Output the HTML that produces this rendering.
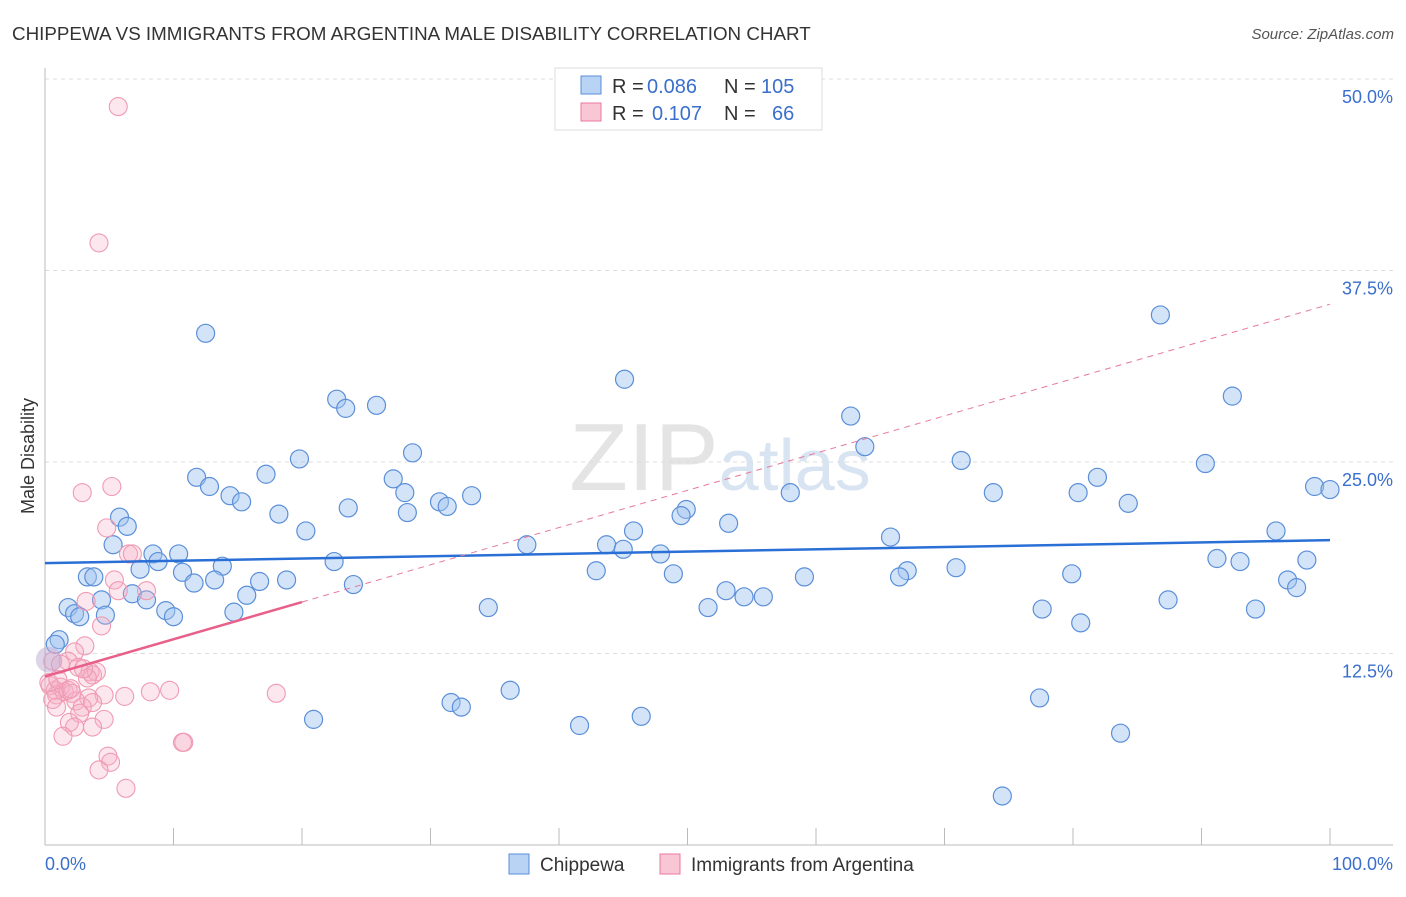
<!DOCTYPE html>
<html><head><meta charset="utf-8"><style>
body{margin:0;background:#fff;font-family:"Liberation Sans",sans-serif}
svg text{font-family:"Liberation Sans",sans-serif}
</style></head><body>
<svg id="chart" width="1406" height="892" viewBox="0 0 1406 892" xmlns="http://www.w3.org/2000/svg">
<text x="12" y="40" font-size="18.8" fill="#333">CHIPPEWA VS IMMIGRANTS FROM ARGENTINA MALE DISABILITY CORRELATION CHART</text>
<text x="1394" y="39" font-size="15" fill="#555" font-style="italic" text-anchor="end">Source: ZipAtlas.com</text>
<text x="720" y="490" font-size="96" fill="#e4e4e4" text-anchor="middle" font-family="Liberation Serif">ZIP<tspan fill="#d8e4f2" font-family="Liberation Sans" font-size="72">atlas</tspan></text>
<g id="grid"></g>
<g id="axes"></g>
<g id="points"></g>
<g id="trends"></g>
<text transform="translate(34,456) rotate(-90)" font-size="18" fill="#333" text-anchor="middle">Male Disability</text>
<g>
<rect x="555" y="68" width="267" height="62" fill="#fff" stroke="#ddd"/>
<rect x="581" y="76" width="20" height="18" fill="#b9d3f5" stroke="#5b8fd9"/>
<rect x="581" y="103" width="20" height="18" fill="#f9c6d5" stroke="#e8799a"/>
<text x="612" y="93" font-size="20" fill="#333">R =</text>
<text x="647" y="93" font-size="20" fill="#3a6fcc">0.086</text>
<text x="724" y="93" font-size="20" fill="#333">N =</text>
<text x="761" y="93" font-size="20" fill="#3a6fcc">105</text>
<text x="612" y="120" font-size="20" fill="#333">R =</text>
<text x="652" y="120" font-size="20" fill="#3a6fcc">0.107</text>
<text x="724" y="120" font-size="20" fill="#333">N =</text>
<text x="772" y="120" font-size="20" fill="#3a6fcc">66</text>
</g>
<g>
<rect x="509" y="854" width="20" height="20" fill="#b9d3f5" stroke="#5b8fd9"/>
<text x="540" y="871" font-size="19" fill="#333">Chippewa</text>
<rect x="660" y="854" width="20" height="20" fill="#f9c6d5" stroke="#e8799a"/>
<text x="691" y="871" font-size="19" fill="#333">Immigrants from Argentina</text>
</g>
</svg>
<script>
const yTicks=[12.5,25,37.5,50];
const yTickLabels=["12.5%","25.0%","37.5%","50.0%"];
const xTickLabels=["0.0%","100.0%"];
const blueX=[12.5,22.7,23.4,25.8,45.1,86.8,92.4,62.7,63.8,28.6,19.8,71.3,90.3,17.2,11.8,27.1,12.8,81.9,98.8,100,14.4,15.3,28.0,33.2,30.7,31.3,58.0,73.8,80.4,84.3,23.6,28.2,18.2,49.9,49.5,5.8,6.4,20.3,45.8,53.2,95.8,65.8,5.3,37.5,43.7,45.0,8.4,10.4,8.8,47.9,91.2,93.0,98.2,22.5,7.4,13.8,10.7,42.9,70.9,48.9,67.1,66.5,79.9,59.1,3.3,3.8,96.7,11.6,13.2,16.7,18.8,24.0,6.8,7.9,15.7,53.0,54.4,55.9,97.4,4.4,87.4,1.8,9.4,10.0,14.7,34.5,51.6,77.6,94.2,2.3,2.7,4.7,80.6,1.1,0.8,36.2,31.6,32.4,77.4,20.9,46.4,41.6,83.7,74.5];
const blueY=[33.4,29.1,28.5,28.7,30.4,34.6,29.3,28.0,26.0,25.6,25.2,25.1,24.9,24.2,24.0,23.9,23.4,24.0,23.4,23.2,22.8,22.4,23.0,22.8,22.4,22.1,23.0,23.0,23.0,22.3,22.0,21.7,21.6,21.9,21.5,21.4,20.8,20.5,20.5,21.0,20.5,20.1,19.6,19.6,19.6,19.3,19.0,19.0,18.5,19.0,18.7,18.5,18.6,18.5,18.0,18.2,17.8,17.9,18.1,17.7,17.9,17.5,17.7,17.5,17.5,17.5,17.3,17.1,17.3,17.2,17.3,17.0,16.4,16.0,16.3,16.6,16.2,16.2,16.8,16.0,16.0,15.5,15.3,14.9,15.2,15.5,15.5,15.4,15.4,15.1,14.9,15.0,14.5,13.4,13.1,10.1,9.3,9.0,9.6,8.2,8.4,7.8,7.3,3.2];
const pinkX=[5.7,4.2,2.9,5.2,4.8,6.5,6.8,7.9,5.4,5.7,3.2,4.4,3.1,2.3,1.8,0.6,2.6,3.5,3.7,4.0,3.3,0.4,0.8,1.2,1.5,0.9,1.8,0.6,2.1,4.6,6.2,8.2,9.7,18.0,3.4,2.4,3.7,2.9,0.9,2.7,4.6,1.9,2.3,3.7,1.4,10.8,10.7,4.9,5.1,4.2,6.3,0.3,1.0,2.0,3.0,1.2];
const pinkY=[48.2,39.3,23.0,23.4,20.7,19.0,19.0,16.6,17.3,16.6,15.9,14.3,13.0,12.6,12.0,12.0,11.6,11.3,11.1,11.3,10.9,10.4,10.1,10.3,10.0,9.8,10.1,9.5,9.9,9.8,9.7,10.0,10.1,9.9,9.6,9.4,9.3,9.0,9.0,8.6,8.2,8.0,7.7,7.7,7.1,6.7,6.7,5.8,5.4,4.9,3.7,10.6,10.8,10.2,11.5,11.8];
const blueTrend=[18.4,19.9];
const pinkTrend=[11.0,35.3];
const NS="http://www.w3.org/2000/svg";
const X0=45,X1=1330,Y0=845,Y50=79;
function sx(v){return X0+(X1-X0)*v/100;}
function sy(v){return Y0-(Y0-Y50)*v/50;}
function mk(tag,attrs,parent){const e=document.createElementNS(NS,tag);for(const k in attrs)e.setAttribute(k,attrs[k]);parent.appendChild(e);return e;}
const grid=document.getElementById('grid'),axes=document.getElementById('axes');
yTicks.forEach((t,i)=>{
 const l=mk('line',{x1:X0,x2:1393,y1:sy(t),y2:sy(t),stroke:'#ddd','stroke-dasharray':'4,4'},grid);
 
 
 const tx=mk('text',{x:1393,y:sy(t)+24,'font-size':18,fill:'#3a6fcc','text-anchor':'end'},axes);
 tx.textContent=yTickLabels[i];
 
 
});
const xa=mk('line',{x1:X0,x2:1393,y1:Y0,y2:Y0,stroke:'#bbb'},axes);


const ya=mk('line',{x1:X0,x2:X0,y1:68,y2:Y0,stroke:'#bbb'},axes);


for(let i=0;i<=10;i++){
 const t=mk('line',{x1:sx(i*10),x2:sx(i*10),y1:828,y2:Y0,stroke:'#bbb'},axes);
 
 
}
const xl0=mk('text',{x:45,y:870,'font-size':18,fill:'#3a6fcc'},axes);
xl0.textContent=xTickLabels[0];


const xl1=mk('text',{x:1393,y:870,'font-size':18,fill:'#3a6fcc','text-anchor':'end'},axes);
xl1.textContent=xTickLabels[1];


const pts=document.getElementById('points');
blueX.forEach((x,i)=>{
 const c=mk('circle',{cx:sx(x),cy:sy(blueY[i]),r:9,fill:'rgba(160,195,240,0.45)',stroke:'#5b8fd9','stroke-width':1.2},pts);
 
 
});
pinkX.forEach((x,i)=>{
 const c=mk('circle',{cx:sx(x),cy:sy(pinkY[i]),r:9,fill:'rgba(245,175,198,0.3)',stroke:'#f09ab3','stroke-width':1.1},pts);
 
 
});
const big=mk('circle',{cx:sx(0.3),cy:sy(12.1),r:13,fill:'rgba(190,170,210,0.5)',stroke:'none'},pts);


const tr=document.getElementById('trends');
const bl=mk('line',{x1:sx(0),y1:sy(blueTrend[0]),x2:sx(100),y2:sy(blueTrend[1]),stroke:'#2a6fd6','stroke-width':2.5},tr);


const pAt=v=>pinkTrend[0]+(pinkTrend[1]-pinkTrend[0])*v/100;
const pd=mk('line',{x1:sx(20),y1:sy(pAt(20)),x2:sx(100),y2:sy(pAt(100)),stroke:'#e8799a','stroke-width':1,'stroke-dasharray':'6,5'},tr);


const ps=mk('line',{x1:sx(0),y1:sy(pAt(0)),x2:sx(20),y2:sy(pAt(20)),stroke:'#e8608a','stroke-width':2.5},tr);


</script>
</body></html>
